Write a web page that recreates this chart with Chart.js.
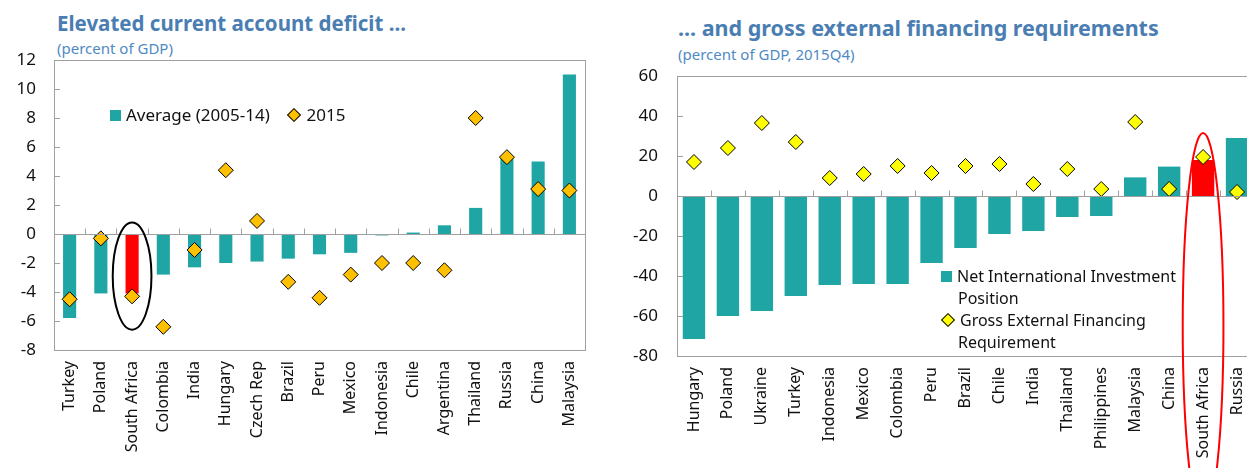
<!DOCTYPE html>
<html>
<head>
<meta charset="utf-8">
<script src="https://cdn.jsdelivr.net/npm/chart.js@4"></script>
<style>
  html, body { margin:0; padding:0; background:#fff; overflow:hidden; width:1247px; height:468px; }
  body { position:relative; font-family:"Noto Sans", sans-serif; }
  .title { position:absolute; color:#4a7eb3; font-weight:bold; white-space:nowrap; }
  .sub { position:absolute; color:#4f8ac4; font-size:15px; white-space:nowrap; }
  .leg { position:absolute; font-size:16px; color:#111; white-space:nowrap; line-height:22px; }
  .sq { display:inline-block; width:11px; height:11px; background:#20a5a5; margin-right:5px; }
  .dm { display:inline-block; width:8px; height:8px; border:1px solid #000; transform:rotate(45deg); margin:0 7px 1px 2px; }
  canvas { position:absolute; top:0; }
</style>
</head>
<body>
<div class="title" style="left:57px; top:9px; font-size:20.5px;">Elevated current account deficit ...</div>
<div class="sub" style="left:57px; top:38px;">(percent of GDP)</div>
<div class="title" style="left:678px; top:13px; font-size:21.5px;">... and gross external financing requirements</div>
<div class="sub" style="left:678px; top:44px;">(percent of GDP, 2015Q4)</div>

<canvas id="left" width="600" height="468" style="left:0;"></canvas>
<canvas id="right" width="670" height="468" style="left:600px;"></canvas>

<div class="leg" style="left:110px; top:104px; font-size:17px;"><span class="sq"></span>Average (2005-14)&nbsp;&nbsp;&nbsp;&nbsp;<span class="dm" style="background:#ffc000"></span>2015</div>
<div class="leg" style="left:941px; top:265px;">
  <div><span class="sq"></span>Net International Investment</div>
  <div style="padding-left:17px">Position</div>
  <div><span class="dm" style="background:#ffff00"></span>Gross External Financing</div>
  <div style="padding-left:17px">Requirement</div>
</div>

<script>
// left panel: current account
const caCountries = ['Turkey','Poland','South Africa','Colombia','India','Hungary','Czech Rep','Brazil','Peru','Mexico','Indonesia','Chile','Argentina','Thailand','Russia','China','Malaysia'];
const caAverage = [-5.8,-4.1,-4.1,-2.8,-2.3,-2.0,-1.9,-1.7,-1.4,-1.3,-0.1,0.1,0.6,1.8,5.2,5.0,11.0];
const ca2015 = [-4.5,-0.3,-4.3,-6.4,-1.1,4.4,0.9,-3.3,-4.4,-2.8,-2.0,-2.0,-2.5,8.0,5.3,3.1,3.0];
const caTicks = [-8,-6,-4,-2,0,2,4,6,8,10,12];

// right panel: NIIP and gross external financing
const efCountries = ['Hungary','Poland','Ukraine','Turkey','Indonesia','Mexico','Colombia','Peru','Brazil','Chile','India','Thailand','Philippines','Malaysia','China','South Africa','Russia'];
const efNiip = [-71.5,-60,-57.5,-50,-44.5,-44,-44,-33.5,-26,-19,-17.5,-10.5,-10,9.3,14.7,18,29];
const efGross = [17,24,36.5,27,9,11,15,11.5,15,16,6,13.5,3.5,37,3.5,19.5,2];
const efTicks = [-80,-60,-40,-20,0,20,40,60];

const teal = '#20a5a5';
const frameColor = '#a0a0a0';

function barColors(labels){
  return labels.map(l => l === 'South Africa' ? '#ff0000' : teal);
}

// box around plot, zero line with upward ticks, inward y ticks, ellipse
function framePlugin(ring){
  return {
    id:'frame',
    afterDatasetsDraw(chart){
      const {ctx, chartArea:a, scales:{x, y}} = chart;
      ctx.save();
      ctx.strokeStyle = frameColor;
      ctx.lineWidth = 1;
      ctx.strokeRect(Math.round(a.left)+0.5, Math.round(a.top)+0.5, Math.round(a.width), Math.round(a.height));
      const y0 = Math.round(y.getPixelForValue(0)) + 0.5;
      ctx.beginPath();
      ctx.moveTo(a.left, y0); ctx.lineTo(a.right, y0);
      const n = x.getLabels().length;
      const w = a.width / n;
      for (let i = 1; i < n; i++) {
        const px = Math.round(a.left + i*w) + 0.5;
        ctx.moveTo(px, y0); ctx.lineTo(px, y0 - 6);
      }
      y.ticks.forEach(t => {
        const py = Math.round(y.getPixelForValue(t.value)) + 0.5;
        ctx.moveTo(a.left, py); ctx.lineTo(a.left + 6, py);
      });
      ctx.stroke();
      // highlight ring
      const cx = x.getPixelForValue(ring.index);
      const cy = y.getPixelForValue(ring.center);
      const ry = Math.abs(y.getPixelForValue(ring.center + ring.half) - cy);
      ctx.strokeStyle = ring.color;
      ctx.lineWidth = 2;
      ctx.beginPath();
      ctx.ellipse(cx, cy, w * ring.wide, ry, 0, 0, Math.PI*2);
      ctx.stroke();
      ctx.restore();
    }
  };
}

function makeChart(id, labels, bars, points, pointColor, ticks, pad, yWidth, yPad, xHeight, barPct, ring){
  return new Chart(document.getElementById(id), {
    data: {
      labels: labels,
      datasets: [
        { type:'line', data:points, showLine:false, pointStyle:'rectRot', pointRadius:7.5, pointHoverRadius:7.5,
          pointBackgroundColor:pointColor, pointBorderColor:'#000', pointBorderWidth:1, order:0 },
        { type:'bar', data:bars, backgroundColor:barColors(labels), categoryPercentage:1, barPercentage:barPct, order:1 }
      ]
    },
    options: {
      responsive:false,
      animation:false,
      layout:{ padding:pad },
      plugins:{ legend:{display:false}, tooltip:{enabled:false} },
      scales:{
        x:{
          grid:{display:false}, border:{display:false},
          ticks:{ minRotation:90, maxRotation:90, autoSkip:false, padding:3, color:'#111', font:{family:'Noto Sans', size:16} },
          afterFit: s => { s.height = xHeight; }
        },
        y:{
          min:ticks[0], max:ticks[ticks.length-1],
          grid:{display:false}, border:{display:false},
          afterBuildTicks: s => { s.ticks = ticks.map(v => ({value:v})); },
          ticks:{ padding:yPad, color:'#111', font:{family:'Noto Sans', size:17} },
          afterFit: s => { s.width = yWidth; }
        }
      }
    },
    plugins:[framePlugin(ring)]
  });
}

makeChart('left', caCountries, caAverage, ca2015, '#ffc000', caTicks,
  {left:0, top:60, right:15, bottom:0}, 54, 10, 118, 0.42,
  {index:2, center:-2.9, half:3.7, wide:0.62, color:'#000'});

makeChart('right', efCountries, efNiip, efGross, '#ffff00', efTicks,
  {left:0, top:76, right:16, bottom:0}, 77, 11, 112, 0.66,
  {index:15, center:-65, half:96.5, wide:0.6, color:'#ff0000'});
</script>
</body>
</html>
